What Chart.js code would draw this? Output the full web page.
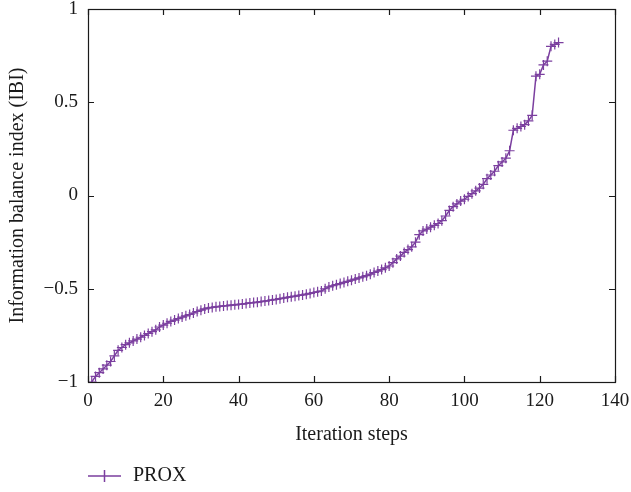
<!DOCTYPE html>
<html>
<head>
<meta charset="utf-8">
<script src="https://cdn.jsdelivr.net/npm/chart.js@4/dist/chart.umd.min.js"></script>
<style>
html,body{margin:0;padding:0;background:#fff;}
#wrap{width:631px;height:492px;position:relative;}
</style>
</head>
<body>
<div id="wrap"><canvas id="c" width="631" height="492"></canvas></div>
<script>
const seriesName = "PROX";
const xTitle = "Iteration steps";
const yTitle = "Information balance index (IBI)";
const xTickValues = [0, 20, 40, 60, 80, 100, 120, 140];
const xTickLabels = ["0", "20", "40", "60", "80", "100", "120", "140"];
const yTickValues = [-1, -0.5, 0, 0.5, 1];
const yTickLabels = ["\u22121", "\u22120.5", "0", "0.5", "1"];
const steps = [];
for (let i = 1; i <= 125; i++) steps.push(i);
const ibi = [
 -1.00, -0.97, -0.95, -0.93, -0.91, -0.89, -0.86, -0.83, -0.815, -0.80,
 -0.79, -0.78, -0.77, -0.76, -0.75, -0.74, -0.73, -0.72, -0.705, -0.695,
 -0.685, -0.675, -0.668, -0.66, -0.652, -0.645, -0.638, -0.63, -0.622, -0.615,
 -0.608, -0.603, -0.60, -0.597, -0.595, -0.592, -0.59, -0.588, -0.586, -0.584,
 -0.582, -0.579, -0.576, -0.574, -0.572, -0.569, -0.566, -0.563, -0.56, -0.557,
 -0.553, -0.55, -0.546, -0.543, -0.54, -0.536, -0.533, -0.529, -0.525, -0.52,
 -0.516, -0.512, -0.50, -0.49, -0.484, -0.478, -0.472, -0.466, -0.46, -0.454,
 -0.448, -0.442, -0.436, -0.43, -0.422, -0.413, -0.405, -0.397, -0.388, -0.378,
 -0.36, -0.34, -0.325, -0.305, -0.29, -0.275, -0.25, -0.21, -0.19, -0.18,
 -0.17, -0.16, -0.15, -0.135, -0.11, -0.08, -0.06, -0.045, -0.03, -0.02,
 -0.005, 0.01, 0.025, 0.04, 0.06, 0.09, 0.11, 0.13, 0.16, 0.18,
 0.20, 0.24, 0.35, 0.36, 0.37, 0.38, 0.40, 0.43, 0.64, 0.65,
 0.70, 0.72, 0.80, 0.81, 0.82
];

const COLOR = "#7b3f9f";
const FONT = "'Liberation Serif', 'DejaVu Serif', serif";

const framePlugin = {
  id: 'frame',
  afterDraw(chart) {
    const ctx = chart.ctx;
    const a = chart.chartArea;
    const xs = chart.scales.x, ys = chart.scales.y;
    ctx.save();
    ctx.strokeStyle = "#1a1a1a";
    ctx.lineWidth = 1.2;
    ctx.strokeRect(Math.round(a.left) + 0.5, Math.round(a.top) + 0.5, Math.round(a.right - a.left), Math.round(a.bottom - a.top));
    const tl = 6;
    ctx.beginPath();
    xTickValues.forEach(v => {
      const px = Math.round(xs.getPixelForValue(v)) + 0.5;
      ctx.moveTo(px, a.bottom); ctx.lineTo(px, a.bottom - tl);
      ctx.moveTo(px, a.top); ctx.lineTo(px, a.top + tl);
    });
    yTickValues.forEach(v => {
      const py = Math.round(ys.getPixelForValue(v)) + 0.5;
      ctx.moveTo(a.left, py); ctx.lineTo(a.left + tl, py);
      ctx.moveTo(a.right, py); ctx.lineTo(a.right - tl, py);
    });
    ctx.stroke();
    // legend
    const ly = 476, lx0 = 88, lx1 = 121;
    ctx.strokeStyle = COLOR;
    ctx.lineWidth = 1.5;
    ctx.beginPath();
    ctx.moveTo(lx0, ly); ctx.lineTo(lx1, ly);
    const mx = (lx0 + lx1) / 2;
    ctx.moveTo(mx, ly - 6); ctx.lineTo(mx, ly + 6);
    ctx.stroke();
    ctx.fillStyle = "#1a1a1a";
    ctx.font = "20px " + FONT;
    ctx.textBaseline = "middle";
    ctx.textAlign = "left";
    ctx.fillText(seriesName, 133, ly);
    ctx.restore();
  }
};

new Chart(document.getElementById('c'), {
  type: 'line',
  data: {
    datasets: [{
      label: seriesName,
      data: steps.map((s, i) => ({x: s, y: ibi[i]})),
      borderColor: COLOR,
      backgroundColor: COLOR,
      borderWidth: 1.5,
      pointStyle: 'cross',
      pointRadius: 5,
      pointBorderWidth: 1.2,
      pointBorderColor: COLOR,
      tension: 0
    }]
  },
  options: {
    responsive: false,
    animation: false,
    devicePixelRatio: 1,
    layout: { padding: { left: 0, right: 16, top: 9, bottom: 40 } },
    plugins: { legend: { display: false }, tooltip: { enabled: false } },
    scales: {
      x: {
        type: 'linear', min: 0, max: 140,
        afterBuildTicks(scale) { scale.ticks = xTickValues.map(v => ({value: v})); },
        afterFit(scale) { scale.height = 70; scale.paddingLeft = 0; scale.paddingRight = 0; },
        grid: { display: false, drawTicks: false },
        border: { display: false },
        ticks: {
          padding: 8, color: "#1a1a1a", maxRotation: 0,
          font: { family: FONT, size: 19 },
          callback: (v) => { const i = xTickValues.indexOf(v); return i >= 0 ? xTickLabels[i] : ''; }
        },
        title: { display: true, text: xTitle, color: "#1a1a1a", font: { family: FONT, size: 20 }, padding: { top: 0, bottom: 5 } }
      },
      y: {
        type: 'linear', min: -1, max: 1,
        afterBuildTicks(scale) { scale.ticks = yTickValues.map(v => ({value: v})); },
        afterFit(scale) { scale.width = 88; scale.paddingTop = 0; scale.paddingBottom = 0; },
        grid: { display: false, drawTicks: false },
        border: { display: false },
        ticks: {
          padding: 10, color: "#1a1a1a",
          font: { family: FONT, size: 19 },
          callback: (v) => { const i = yTickValues.indexOf(v); return i >= 0 ? yTickLabels[i] : ''; }
        },
        title: { display: true, text: yTitle, color: "#1a1a1a", font: { family: FONT, size: 20 }, padding: { top: 6, bottom: 4 } }
      }
    }
  },
  plugins: [framePlugin]
});
</script>
</body>
</html>
